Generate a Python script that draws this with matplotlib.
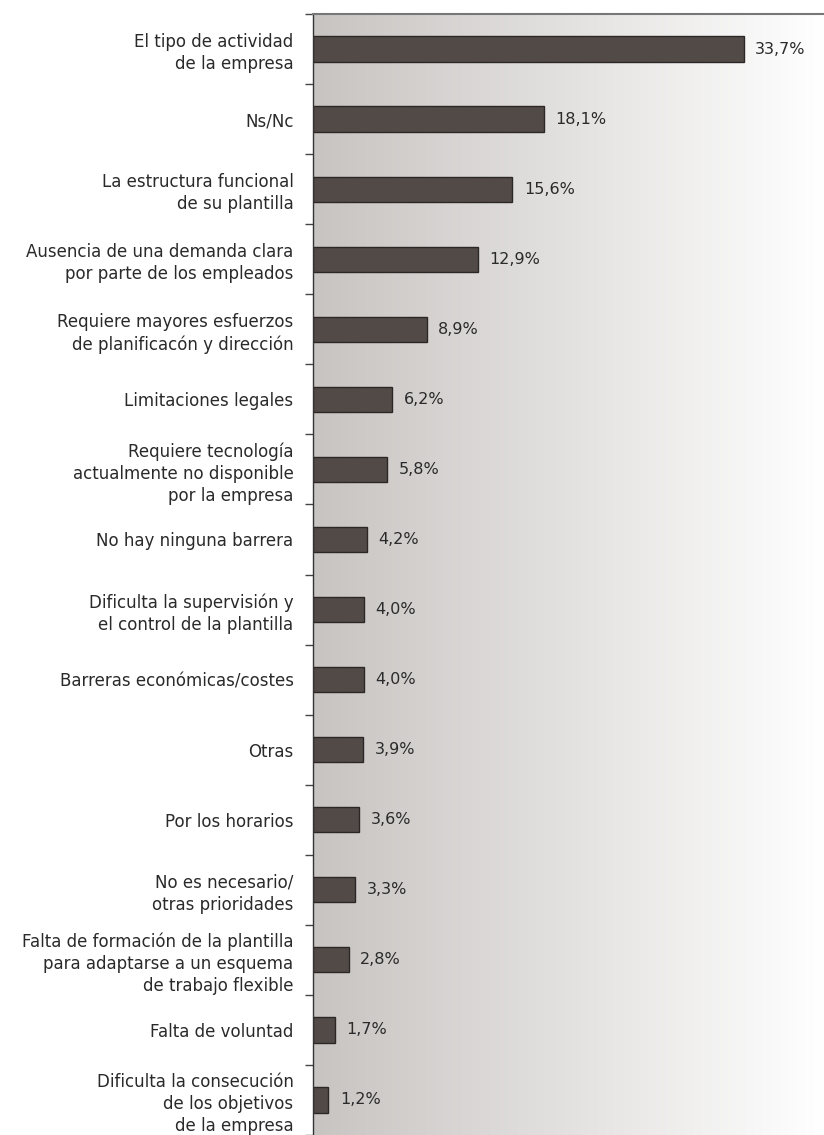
import matplotlib.pyplot as plt
import numpy as np

categories = [
    'El tipo de actividad\nde la empresa',
    'Ns/Nc',
    'La estructura funcional\nde su plantilla',
    'Ausencia de una demanda clara\npor parte de los empleados',
    'Requiere mayores esfuerzos\nde planificacón y dirección',
    'Limitaciones legales',
    'Requiere tecnología\nactualmente no disponible\npor la empresa',
    'No hay ninguna barrera',
    'Dificulta la supervisión y\nel control de la plantilla',
    'Barreras económicas/costes',
    'Otras',
    'Por los horarios',
    'No es necesario/\notras prioridades',
    'Falta de formación de la plantilla\npara adaptarse a un esquema\nde trabajo flexible',
    'Falta de voluntad',
    'Dificulta la consecución\nde los objetivos\nde la empresa',
]
values = [33.7, 18.1, 15.6, 12.9, 8.9, 6.2, 5.8, 4.2, 4.0, 4.0, 3.9, 3.6, 3.3, 2.8, 1.7, 1.2]
value_labels = ['33,7%', '18,1%', '15,6%', '12,9%', '8,9%', '6,2%', '5,8%', '4,2%',
                '4,0%', '4,0%', '3,9%', '3,6%', '3,3%', '2,8%', '1,7%', '1,2%']

plt.rcParams['font.family'] = ['DejaVu Sans']

fig = plt.figure(figsize=(8.24, 11.35), dpi=100)
ax = fig.add_axes([313 / 824, 0.0, 511 / 824, (1135 - 14) / 1135])

n = len(categories)
ypos = np.arange(n)

# fondo degradado gris -> blanco
grad = np.linspace(0, 1, 256).reshape(1, -1)
left = np.array([200, 196, 194]) / 255
right = np.array([255, 255, 255]) / 255
img = left[None, None, :] * (1 - grad[..., None]) + right[None, None, :] * grad[..., None]
ax.imshow(img, extent=[0, 40, n - 0.5, -0.5], aspect='auto', zorder=0)

ax.barh(ypos, values, height=0.36, color='#524a47', edgecolor='#2b2726', linewidth=1, zorder=2)
for y, v, t in zip(ypos, values, value_labels):
    ax.text(v + 0.9, y, t, va='center', ha='left', fontsize=11.5, color='#2a2a2a', zorder=3)

ax.set_xlim(0, 40)
ax.set_ylim(n - 0.5, -0.5)

ax.set_yticks(np.arange(n + 1) - 0.5)
ax.set_yticklabels([])
ax.set_yticks(ypos, minor=True)
ax.set_yticklabels(categories, minor=True, fontsize=12, color='#2a2a2a', linespacing=1.28)
ax.tick_params(axis='y', which='major', length=6, width=1, color='#444444', direction='out')
ax.tick_params(axis='y', which='minor', length=0, pad=14)
ax.set_xticks([])

ax.spines['right'].set_visible(False)
ax.spines['bottom'].set_visible(False)
ax.spines['top'].set_color('#777777')
ax.spines['top'].set_linewidth(1.5)
ax.spines['left'].set_color('#333333')
ax.spines['left'].set_linewidth(1)

fig.savefig('out.png', dpi=100)
